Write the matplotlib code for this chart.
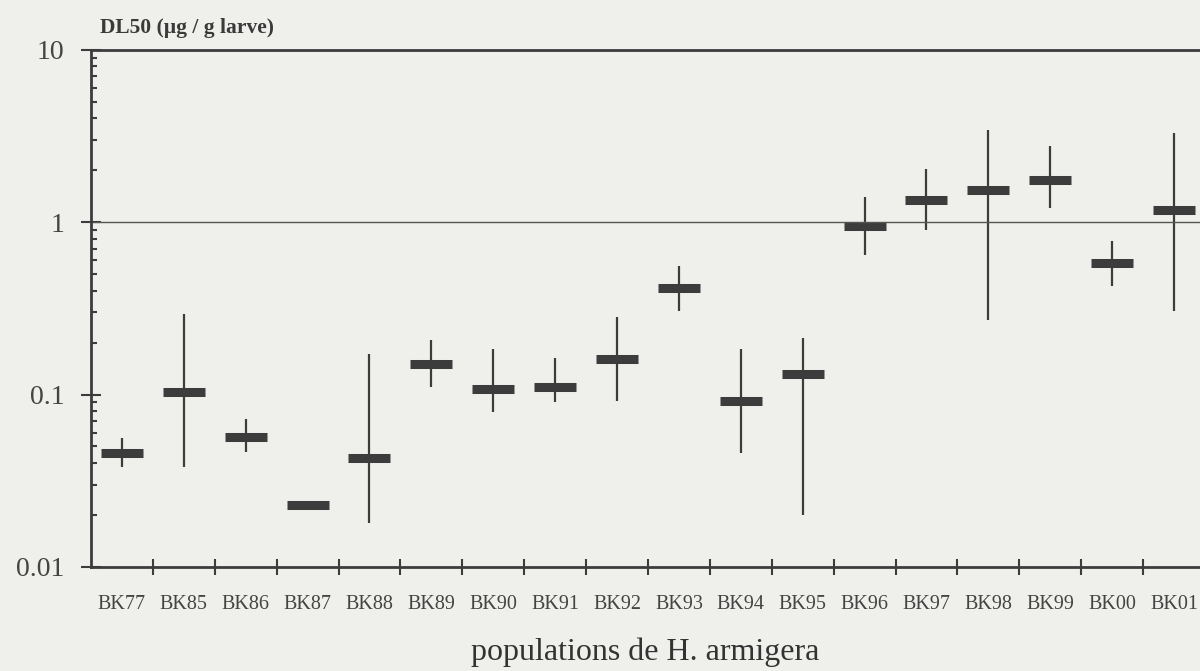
import matplotlib
matplotlib.use("Agg")
from matplotlib import pyplot as plt
import numpy as np

populations = ['BK77', 'BK85', 'BK86', 'BK87', 'BK88', 'BK89', 'BK90', 'BK91', 'BK92',
               'BK93', 'BK94', 'BK95', 'BK96', 'BK97', 'BK98', 'BK99', 'BK00', 'BK01']
dl50 = [0.046, 0.103, 0.057, 0.0228, 0.043, 0.151, 0.108, 0.111, 0.161,
        0.417, 0.092, 0.131, 0.946, 1.34, 1.54, 1.76, 0.582, 1.17]
ci_low = [0.038, 0.038, 0.0467, None, 0.0179, 0.110, 0.079, 0.090, 0.092,
          0.305, 0.046, 0.020, 0.642, 0.897, 0.270, 1.21, 0.425, 0.304]
ci_high = [0.0558, 0.294, 0.0722, None, 0.172, 0.207, 0.183, 0.163, 0.282,
           0.555, 0.184, 0.214, 1.39, 2.04, 3.44, 2.75, 0.774, 3.30]

bg = '#efefeb'
ink = '#3c3c3c'
serif = ['Liberation Serif', 'DejaVu Serif']

fig = plt.figure(figsize=(12, 6.71), dpi=100, facecolor=bg)
ax = fig.add_axes([0.0758, 0.155, 0.9242, 0.771], facecolor=bg)

x = np.arange(len(populations))
# intervalles de confiance (BK87 n'en a pas)
for i in range(len(populations)):
    if ci_low[i] is not None:
        ax.vlines(x[i], ci_low[i], ci_high[i], color=ink, linewidth=1.6)
ax.hlines(dl50, x - 0.34, x + 0.34, color=ink, linewidth=6.5)

ax.axhline(1, color='#555555', linewidth=1)

ax.set_yscale('log')
ax.set_ylim(0.01, 10)
ax.set_xlim(-0.5, 17.42)

ax.set_yticks([0.01, 0.1, 1, 10])
ax.set_yticklabels(['0.01', '0.1', '1', '10'], fontsize=20, color='#444444', family=serif)
ax.yaxis.set_minor_locator(matplotlib.ticker.LogLocator(base=10, subs=np.arange(2, 10)))
ax.yaxis.set_minor_formatter(matplotlib.ticker.NullFormatter())
ax.tick_params(axis='y', which='major', direction='inout', length=14, width=1.5, color=ink, pad=12)
ax.tick_params(axis='y', which='minor', direction='in', length=4.3, width=1.5, color=ink)

ax.set_xticks(x[:-1] + 0.5)
ax.set_xticklabels([])
ax.set_xticks(x, minor=True)
ax.set_xticklabels(populations, minor=True, fontsize=14.5, color='#444444', family=serif)
ax.tick_params(axis='x', which='major', direction='inout', length=11.5, width=1.5, color=ink)
ax.tick_params(axis='x', which='minor', length=0, pad=20)

for s in ['left', 'bottom', 'top']:
    ax.spines[s].set_color(ink)
    ax.spines[s].set_linewidth(2)
ax.spines['right'].set_visible(False)

fig.text(0.083, 0.951, 'DL50 (µg / g larve)', fontsize=15.5, fontweight='bold',
         color='#3a3a3a', family=serif, ha='left', va='baseline')
fig.text(0.5375, 0.016, 'populations de H. armigera', fontsize=23, color='#333333',
         family=serif, ha='center', va='baseline')

fig.savefig('out.png', dpi=100, facecolor=bg)
